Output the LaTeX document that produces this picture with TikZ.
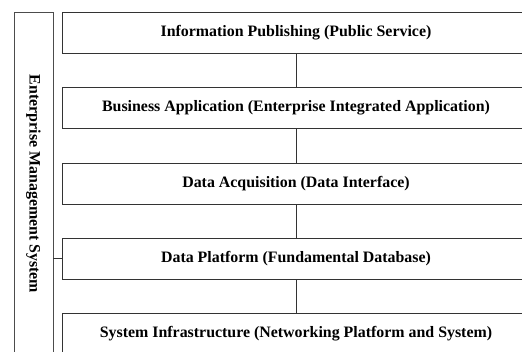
\documentclass[tikz,border=0pt]{standalone}
\usepackage{fontspec}
\setmainfont{Liberation Serif}

\tikzset{
  layer/.style={draw=black!80, line width=0.8pt, minimum width=468pt, minimum height=41pt,
    font=\fontsize{15.9}{18}\selectfont\bfseries},
  sidebox/.style={draw=black!70, line width=0.8pt, minimum width=39pt, minimum height=360pt,
    font=\fontsize{15.9}{18}\selectfont\bfseries}
}

\begin{document}
\begin{tikzpicture}[x=1pt,y=-1pt]
      \useasboundingbox (0,0) rectangle (522,351);
      \clip (0,0) rectangle (522,351);
      \draw
        (296,32.5) node[layer] (publishing){Information Publishing (Public Service)}
        (296,108) node[layer] (business){Business Application (Enterprise Integrated Application)}
        (296,183.5) node[layer] (acquisition){Data Acquisition (Data Interface)}
        (296,258.5) node[layer] (platform){Data Platform (Fundamental Database)}
        (296,334) node[layer] (infrastructure){System Infrastructure (Networking Platform and System)};
      \node[sidebox, anchor=north] (management) at (33.5,12) {};
      \node[rotate=-90, font=\fontsize{15.9}{18}\selectfont\bfseries] (managementtext) at (33.5,184) {Enterprise Management System};
      \begin{scope}[draw=black!80, line width=0.8pt]
        \draw (publishing) to (business);
        \draw (business) to (acquisition);
        \draw (acquisition) to (platform);
        \draw (platform) to (infrastructure);
        \draw (management.east |- platform) to (platform.west);
      \end{scope}
    \end{tikzpicture}
\end{document}
